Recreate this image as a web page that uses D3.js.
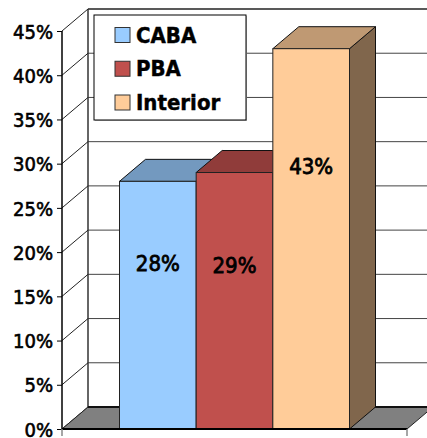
<!DOCTYPE html>
<html><head><meta charset="utf-8">
<script src="https://cdn.jsdelivr.net/npm/d3@7/dist/d3.min.js"></script>
<style>html,body{margin:0;padding:0;background:#fff;}svg{display:block;}</style>
</head><body>
<script>
const categories = ["CABA", "PBA", "Interior"];
const values = [28, 29, 43];
const labels = ["28%", "29%", "43%"];
const tickValues = [0, 5, 10, 15, 20, 25, 30, 35, 40, 45];
const tickLabels = ["0%", "5%", "10%", "15%", "20%", "25%", "30%", "35%", "40%", "45%"];

const frontColors = ["#99CCFF", "#C0504D", "#FFCC99"];
const topColors = ["#7399BF", "#903C3A", "#BF9973"];
const sideColors = ["#5C7A99", "#60302E", "#80664C"];

const W = 427, H = 438;
const dx = 26, dy = -22;
const svg = d3.select("body").append("svg").attr("width", W).attr("height", H);

const y = d3.scaleLinear().domain([0, 45]).range([429, 31]);
const x = d3.scaleBand().domain(categories).range([62, 407]).paddingInner(0).paddingOuter(0.75);
const x0 = 62, x1 = 407, y0 = y(0);
const FONT = "'DejaVu Sans Condensed', 'DejaVu Sans', sans-serif";

// back wall gridlines
const gBack = svg.append("g");
gBack.selectAll("line.grid").data(tickValues).join("line")
  .attr("x1", x0 + dx).attr("x2", x1 + dx)
  .attr("y1", d => y(d) + dy).attr("y2", d => y(d) + dy)
  .attr("stroke", d => d === 45 ? "#222" : "#444").attr("stroke-width", d => d === 45 ? 1.5 : 1);
gBack.append("line").attr("x1", x0 + dx).attr("x2", x0 + dx)
  .attr("y1", y(45) + dy).attr("y2", y(0) + dy).attr("stroke", "#333").attr("stroke-width", 1.5);
gBack.selectAll("line.diag").data(tickValues).join("line")
  .attr("x1", x0).attr("y1", d => y(d)).attr("x2", x0 + dx).attr("y2", d => y(d) + dy)
  .attr("stroke", "#222").attr("stroke-width", 1);

// floor
svg.append("path")
  .attr("d", `M${x0},${y0} L${x1},${y0} L${x1 + dx},${y0 + dy} L${x0 + dx},${y0 + dy} Z`)
  .attr("fill", "#808080").attr("stroke", "#222").attr("stroke-width", 1);
svg.append("line").attr("x1", x0 + dx).attr("x2", x1 + dx).attr("y1", y0 + dy).attr("y2", y0 + dy)
  .attr("stroke", "#111").attr("stroke-width", 2);

// bars
const bw = x.bandwidth();
const gBars = svg.append("g");
categories.forEach((c, i) => {
  const bx = x(c), bt = y(values[i]);
  gBars.append("path")
    .attr("d", `M${bx + bw},${bt} L${bx + bw + dx},${bt + dy} L${bx + bw + dx},${y0 + dy} L${bx + bw},${y0} Z`)
    .attr("fill", sideColors[i]).attr("stroke", "#111").attr("stroke-width", 1);
  gBars.append("path")
    .attr("d", `M${bx},${bt} L${bx + bw},${bt} L${bx + bw + dx},${bt + dy} L${bx + dx},${bt + dy} Z`)
    .attr("fill", topColors[i]).attr("stroke", "#111").attr("stroke-width", 1);
  gBars.append("rect").attr("x", bx).attr("y", bt).attr("width", bw).attr("height", y0 - bt)
    .attr("fill", frontColors[i]).attr("stroke", "#222").attr("stroke-width", 1);
});

// front axis
svg.append("line").attr("x1", x0).attr("x2", x0).attr("y1", y(45)).attr("y2", y0)
  .attr("stroke", "#000").attr("stroke-width", 1.5);
svg.append("line").attr("x1", x0).attr("x2", x1).attr("y1", y0).attr("y2", y0)
  .attr("stroke", "#000").attr("stroke-width", 2);
const yAxis = d3.axisLeft(y).tickValues(tickValues).tickSize(5).tickPadding(4)
  .tickFormat((d, i) => tickLabels[i]);
const ga = svg.append("g").attr("transform", `translate(${x0},0)`).call(yAxis);
ga.select(".domain").remove();
ga.selectAll(".tick line").attr("stroke", "#000");
ga.selectAll(".tick text").attr("font-family", FONT)
  .attr("font-size", 20).attr("fill", "#000").attr("stroke", "#000").attr("stroke-width", 0.6)
  .attr("dy", "0.36em");
svg.selectAll("line.ctick").data([x0, x1]).join("line")
  .attr("x1", d => d).attr("x2", d => d).attr("y1", y0).attr("y2", y0 + 7)
  .attr("stroke", "#888").attr("stroke-width", 1.5);

// data labels
const labelLevels = [18.8, 18.5, 29.7];
svg.selectAll("text.dl").data(categories).join("text")
  .attr("x", (c) => x(c) + bw / 2)
  .attr("y", (c, i) => y(labelLevels[i]))
  .attr("dy", "0.36em")
  .attr("text-anchor", "middle")
  .attr("font-family", FONT)
  .attr("font-size", 22).attr("fill", "#000").attr("stroke", "#000").attr("stroke-width", 0.8)
  .text((c, i) => labels[i]);

// legend
const lg = svg.append("g");
lg.append("rect").attr("x", 95).attr("y", 16).attr("width", 152).attr("height", 105).attr("fill", "#bbb");
lg.append("rect").attr("x", 94).attr("y", 15).attr("width", 152).attr("height", 105)
  .attr("fill", "#fff").attr("stroke", "#000").attr("stroke-width", 1);
const ly = d3.scalePoint().domain(categories).range([35, 102.5]);
categories.forEach((c, i) => {
  lg.append("rect").attr("x", 115).attr("y", ly(c) - 7.5).attr("width", 15).attr("height", 15)
    .attr("fill", frontColors[i]).attr("stroke", "#333").attr("stroke-width", 1);
  lg.append("text").attr("x", 136).attr("y", ly(c) + 7.5)
    .attr("font-family", FONT)
    .attr("font-weight", "bold").attr("font-size", 22).attr("fill", "#000")
    .attr("stroke", "#000").attr("stroke-width", 0.4).text(c);
});
</script>
</body></html>
